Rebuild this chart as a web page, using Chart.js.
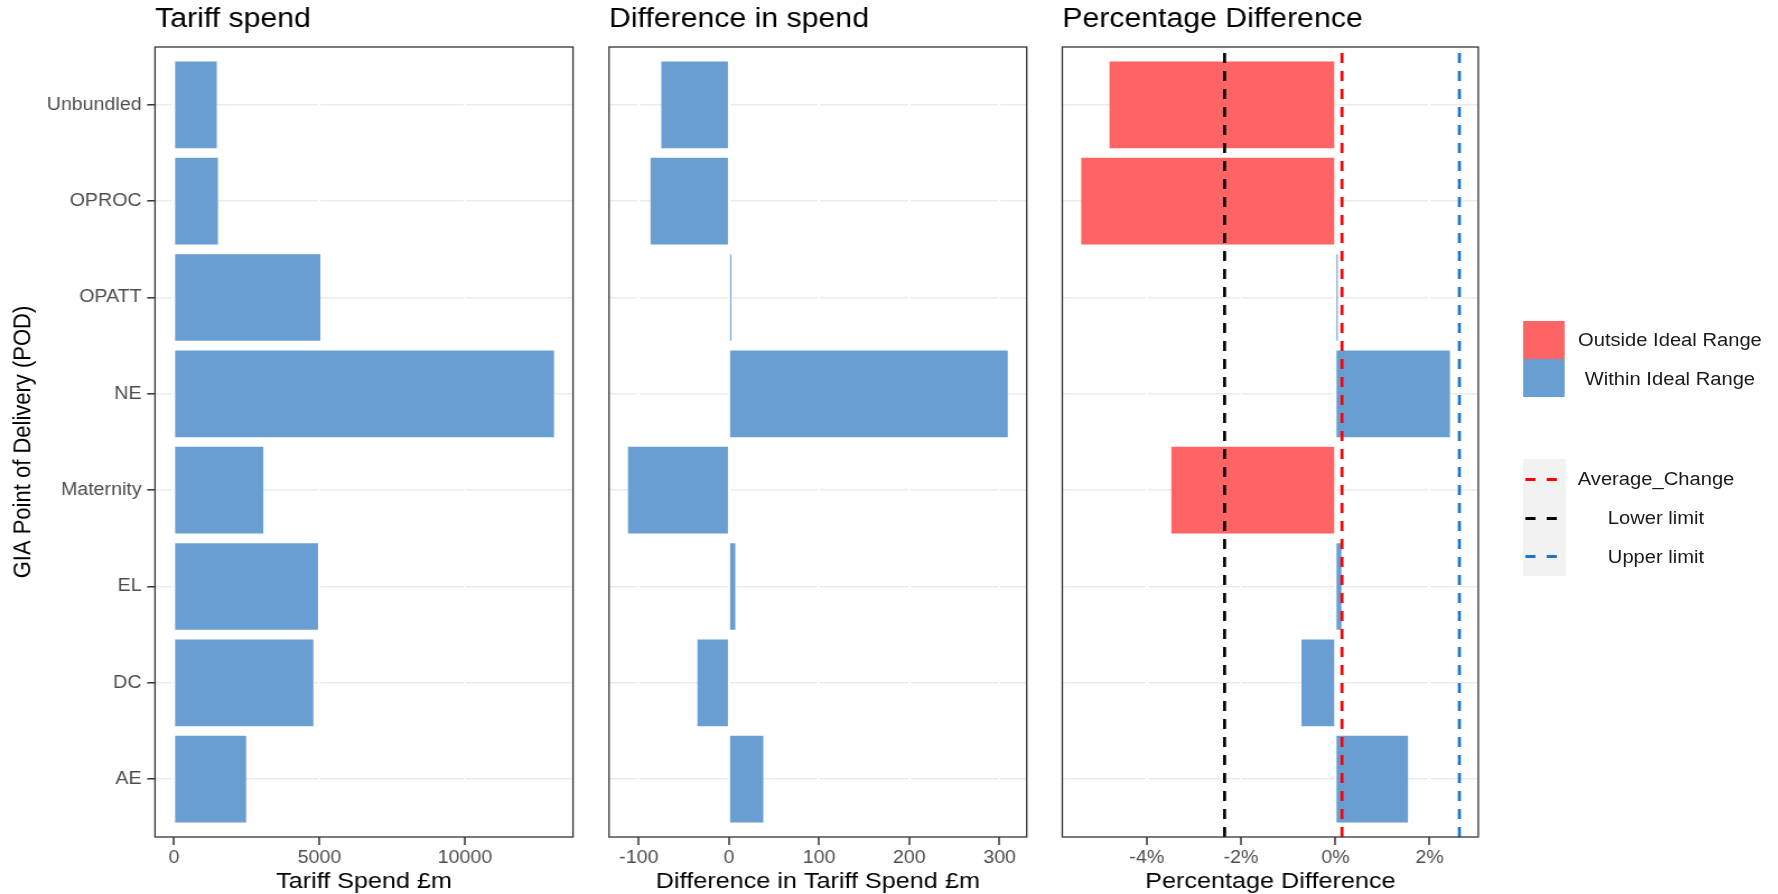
<!DOCTYPE html>
<html>
<head>
<meta charset="utf-8">
<script src="https://cdn.jsdelivr.net/npm/chart.js@4.4.0/dist/chart.umd.min.js"></script>
<style>
  html, body { margin: 0; padding: 0; background: #fff; overflow: hidden; }
  /* the reference image is stretched sideways, so the whole page is too */
  #wrap { position: absolute; left: 0; top: 0; width: 1587.5px; height: 894px;
          transform: scaleX(1.12); transform-origin: 0 0;
          font-family: 'Liberation Sans', Arial, sans-serif; }
  canvas { position: absolute; top: 0; }
  .key { position: absolute; }
  .lbl { position: absolute; width: 220px; text-align: center; font-size: 18px;
         line-height: 20px; color: #1a1a1a; white-space: nowrap; }
  .dash { position: absolute; height: 3px; width: 9.4px; }
</style>
</head>
<body>
<div id="wrap">
  <canvas id="c1" width="520" height="894" style="left:0px"></canvas>
  <canvas id="c2" width="395" height="894" style="left:530px"></canvas>
  <canvas id="c3" width="395" height="894" style="left:935px"></canvas>

  <div class="key" style="left:1359.6px;top:321px;width:37px;height:38px;background:#FF6464"></div>
  <div class="key" style="left:1359.6px;top:359px;width:37px;height:38px;background:#699ED3"></div>
  <div class="lbl" style="left:1381px;top:330px">Outside Ideal Range</div>
  <div class="lbl" style="left:1381px;top:369px">Within Ideal Range</div>

  <div class="key" style="left:1359.6px;top:459px;width:38.4px;height:117px;background:#F2F2F2"></div>
  <div class="dash" style="left:1361.6px;top:477.5px;background:#FF0000"></div>
  <div class="dash" style="left:1381px;top:477.5px;background:#FF0000"></div>
  <div class="dash" style="left:1361.6px;top:516.5px;background:#000000"></div>
  <div class="dash" style="left:1381px;top:516.5px;background:#000000"></div>
  <div class="dash" style="left:1361.6px;top:555px;background:#1874CD"></div>
  <div class="dash" style="left:1381px;top:555px;background:#1874CD"></div>
  <div class="lbl" style="left:1368.6px;top:469px">Average_Change</div>
  <div class="lbl" style="left:1368.6px;top:508px">Lower limit</div>
  <div class="lbl" style="left:1368.6px;top:546.7px">Upper limit</div>
</div>
<script>
// categories bottom to top
var categories = ['AE', 'DC', 'EL', 'Maternity', 'NE', 'OPATT', 'OPROC', 'Unbundled'];
var tariffSpend = [2480, 4790, 4950, 3070, 13060, 5030, 1510, 1470];
var spendDiff = [38, -35, 7, -112, 309, 2.5, -87, -75];
var pctDiff = [1.54, -0.72, 0.13, -3.48, 2.43, 0.05, -5.39, -4.79];

var averageChange = 0.14;
var lowerLimit = -2.35;
var upperLimit = 2.63;

var spendTicks = [0, 5000, 10000];
var diffTicks = [-100, 0, 100, 200, 300];
var pctTicks = [-4, -2, 0, 2];

var BLUE = '#699ED3';
var RED = '#FF6464';
var TICK_COL = '#4D4D4D';

Chart.defaults.font.family = "'Liberation Sans', Arial, sans-serif";
Chart.defaults.color = TICK_COL;

// ggplot style 5% expansion
function expand(vals) {
  var lo = Math.min.apply(null, vals), hi = Math.max.apply(null, vals);
  var pad = (hi - lo) * 0.05;
  return [lo - pad, hi + pad];
}

var panelBorder = {
  id: 'panelBorder',
  afterDatasetsDraw: function(chart) {
    var a = chart.chartArea, ctx = chart.ctx;
    ctx.save();
    ctx.strokeStyle = '#333333';
    ctx.lineWidth = 1.3;
    ctx.strokeRect(a.left, a.top, a.right - a.left, a.bottom - a.top);
    ctx.restore();
  }
};

function barData(vals) {
  return vals.map(function(v, i) { return {x: v, y: i + 1}; });
}

function makeChart(id, opts) {
  var range = opts.range;
  var yAxis = {
    type: 'linear', min: 0.4, max: 8.6, offset: false,
    afterBuildTicks: function(s) { s.ticks = categories.map(function(c, i) { return {value: i + 1}; }); },
    afterFit: function(s) { s.width = opts.yWidth; },
    ticks: {
      display: opts.yLabels,
      callback: function(v) { return categories[v - 1]; },
      color: TICK_COL, font: {size: 17.5}, padding: 5
    },
    grid: { offset: false, color: '#EBEBEB', lineWidth: 1.6, drawTicks: opts.yLabels, tickLength: 7,
            tickColor: '#333333', tickWidth: 1.5, z: -2 },
    border: { display: false }
  };
  if (opts.yLabels) {
    yAxis.title = { display: true, text: 'GIA Point of Delivery (POD)', color: '#000',
                    font: {size: 22, lineHeight: 1.2}, padding: {top: 8, bottom: 0} };
  }
  return new Chart(document.getElementById(id), {
    type: 'bar',
    data: { datasets: opts.datasets },
    options: {
      indexAxis: 'y',
      responsive: false,
      animation: false,
      layout: { padding: opts.padding },
      plugins: {
        legend: { display: false },
        tooltip: { enabled: false },
        title: { display: true, text: opts.title, align: 'start', fullSize: false, color: '#000',
                 font: {size: 27, weight: 'normal', lineHeight: 1.2}, padding: {top: 3, bottom: 11.6} }
      },
      scales: {
        x: {
          type: 'linear', min: range[0], max: range[1], offset: false,
          afterBuildTicks: function(s) { s.ticks = opts.ticks.map(function(v) { return {value: v}; }); },
          afterFit: function(s) { s.height = 57; },
          ticks: { callback: opts.fmt, color: TICK_COL, font: {size: 17.5}, padding: 2.5, maxRotation: 0 },
          grid: { offset: false, color: '#FFFFFF', lineWidth: 2, tickLength: 8, tickColor: '#333333', tickWidth: 1.5, z: -1 },
          border: { display: false },
          title: { display: true, text: opts.xTitle, color: '#000',
                   font: {size: 22.5, lineHeight: 1.1}, padding: 0 }
        },
        y: yAxis
      }
    },
    plugins: [panelBorder]
  });
}

function barSet(vals, colors) {
  return { type: 'bar', data: barData(vals), backgroundColor: colors, borderWidth: 0,
           categoryPercentage: 1, barPercentage: 0.9, order: 1 };
}

function vline(v, color) {
  return { type: 'line', data: [{x: v, y: 0.4}, {x: v, y: 8.6}], borderColor: color,
           borderWidth: 2.7, borderDash: [10, 8], pointRadius: 0, fill: false, order: 0 };
}

makeChart('c1', {
  title: 'Tariff spend', xTitle: 'Tariff Spend £m',
  range: expand(tariffSpend.concat([0])), ticks: spendTicks,
  fmt: function(v) { return String(v); },
  yLabels: true, yWidth: 138.4, padding: {left: 0, right: 8.4, top: 0, bottom: 0},
  datasets: [barSet(tariffSpend, BLUE)]
});

makeChart('c2', {
  title: 'Difference in spend', xTitle: 'Difference in Tariff Spend £m',
  range: expand(spendDiff.concat([0])), ticks: diffTicks,
  fmt: function(v) { return String(v); },
  yLabels: false, yWidth: 0, padding: {left: 13.75, right: 8.3, top: 0, bottom: 0},
  datasets: [barSet(spendDiff, BLUE)]
});

makeChart('c3', {
  title: 'Percentage Difference', xTitle: 'Percentage Difference',
  range: expand(pctDiff.concat([0, lowerLimit, averageChange, upperLimit])), ticks: pctTicks,
  fmt: function(v) { return v + '%'; },
  yLabels: false, yWidth: 0, padding: {left: 13.5, right: 10.1, top: 0, bottom: 0},
  datasets: [
    vline(lowerLimit, '#000000'),
    vline(averageChange, '#FF0000'),
    vline(upperLimit, '#1874CD'),
    barSet(pctDiff, pctDiff.map(function(v) { return (v < lowerLimit || v > upperLimit) ? RED : BLUE; }))
  ]
});
</script>
</body>
</html>
